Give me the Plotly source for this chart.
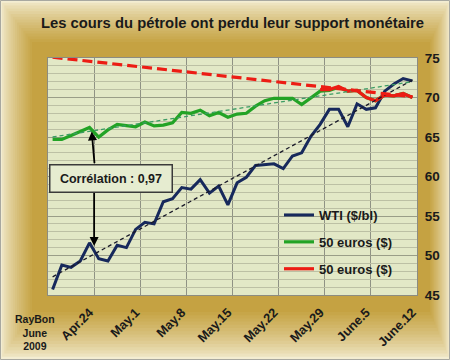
import plotly.graph_objects as go

# ---------------- data ----------------
day_index = list(range(40))  # trading days Apr 20 .. Jun 12, 2009
tick_pos = [4, 9, 14, 19, 24, 29, 34, 39]
tick_labels = ["Apr.24", "May.1", "May.8", "May.15", "May.22", "May.29", "June.5", "June.12"]

wti = [45.7, 48.8, 48.5, 49.3, 51.6, 49.6, 49.3, 51.3, 51.0, 53.3,
       54.2, 54.0, 56.8, 57.2, 58.6, 58.4, 59.6, 57.9, 58.8, 56.4,
       59.2, 59.9, 61.4, 61.5, 61.6, 61.0, 62.6, 63.0, 65.1, 66.6,
       68.5, 68.5, 66.3, 69.2, 68.5, 68.7, 70.8, 71.7, 72.4, 72.1]

eur_green = [64.7, 64.7, 65.2, 65.7, 66.2, 65.0, 65.9, 66.6, 66.4, 66.3,
             66.9, 66.4, 66.5, 66.8, 68.1, 68.0, 68.4, 67.7, 68.1, 67.5,
             67.9, 68.0, 68.9, 69.6, 69.9, 69.9, 69.9, 69.1, 69.9, 70.8,
             70.9, 71.3, 70.8, 70.9, 70.0, 69.6, 70.3, 70.2, 70.5, 70.0]

red_index = list(range(29, 40))
eur_red = [71.0, 71.0, 71.4, 70.8, 70.9, 70.0, 69.6, 70.3, 70.2, 70.5, 70.0]

trend_x = [0, 39]
wti_trend = [47.3, 72.2]
green_trend = [65.0, 72.0]
red_trend = [75.1, 70.1]

# ---------------- layout geometry ----------------
W, H = 450, 360
L, R, T, B = 48, 33, 58, 65
PW, PH = W - L - R, H - T - B


def px(x):
    return (x - L) / PW


def py(y):
    return (H - B - y) / PH


FONT = "Liberation Sans, Arial, sans-serif"

fig = go.Figure()

fig.add_trace(go.Scatter(x=day_index, y=wti, mode="lines", name="<b>WTI ($/bl)</b>",
                         line=dict(color="#17295c", width=3), legendgroup="a"))
fig.add_trace(go.Scatter(x=day_index, y=eur_green, mode="lines", name="<b>50 euros ($)</b>",
                         line=dict(color="#22a325", width=3.2), legendgroup="b"))
fig.add_trace(go.Scatter(x=red_index, y=eur_red, mode="lines", name="<b>50 euros ($)</b>",
                         line=dict(color="#ec1c14", width=3.2), legendgroup="c"))

fig.add_trace(go.Scatter(x=trend_x, y=wti_trend, mode="lines", showlegend=False,
                         line=dict(color="#1a1a2a", width=1.3, dash="4px,3px"), hoverinfo="skip"))
fig.add_trace(go.Scatter(x=trend_x, y=green_trend, mode="lines", showlegend=False,
                         line=dict(color="#3c9c64", width=1.3, dash="4px,3px"), hoverinfo="skip"))
fig.add_trace(go.Scatter(x=trend_x, y=red_trend, mode="lines", showlegend=False,
                         line=dict(color="#ec1c14", width=3.2, dash="10px,5px"), hoverinfo="skip"))

# ---------------- background gradient frame ----------------
def lerp(c1, c2, f):
    a = [int(c1[i:i + 2], 16) for i in (1, 3, 5)]
    b = [int(c2[i:i + 2], 16) for i in (1, 3, 5)]
    return "#" + "".join(f"{round(a[k] + (b[k] - a[k]) * f):02x}" for k in range(3))


shapes = []
outer = (0, 0, W, H)
inner = (32, 42, 430, 312)
N = 16
for k in range(N):
    f = k / (N - 1)
    x0 = outer[0] + (inner[0] - outer[0]) * f
    y0 = outer[1] + (inner[1] - outer[1]) * f
    x1 = outer[2] + (inner[2] - outer[2]) * f
    y1 = outer[3] + (inner[3] - outer[3]) * f
    col = lerp("#f3edd2", "#c5a242", f ** 0.75)
    shapes.append(dict(type="rect", xref="paper", yref="paper", layer="below",
                       x0=px(x0), x1=px(x1), y0=py(y1), y1=py(y0),
                       fillcolor=col, line=dict(width=0)))
# plot area background
shapes.append(dict(type="rect", xref="paper", yref="paper", layer="below",
                   x0=0, x1=1, y0=0, y1=1, fillcolor="#e2e8c6", line=dict(width=0)))
# outer border
shapes.append(dict(type="rect", xref="paper", yref="paper", layer="above",
                   x0=px(0.5), x1=px(W - 0.5), y0=py(H - 0.5), y1=py(0.5),
                   fillcolor="rgba(0,0,0,0)", line=dict(color="#a8a8a0", width=1)))

# ---------------- annotations ----------------
annotations = [
    dict(x=6.38, y=59.8, xref="x", yref="y", text="<b>Corrélation : 0,97</b>",
         showarrow=False, xanchor="center", yanchor="middle",
         font=dict(family=FONT, size=12.5, color="#1a1a1a"),
         bgcolor="#e6ecd0", bordercolor="#3a3a3a", borderwidth=1.5,
         width=117, height=22, borderpad=2),
    dict(x=4.24, y=65.7, ax=4.55, ay=61.5, xref="x", yref="y", axref="x", ayref="y",
         text="", showarrow=True, arrowhead=2, arrowsize=1, arrowwidth=1.8,
         arrowcolor="#000000", standoff=0, startstandoff=0),
    dict(x=4.5, y=51.2, ax=4.5, ay=58.1, xref="x", yref="y", axref="x", ayref="y",
         text="", showarrow=True, arrowhead=2, arrowsize=1, arrowwidth=1.8,
         arrowcolor="#000000", standoff=0, startstandoff=0),
    dict(x=px(35), y=py(332), xref="paper", yref="paper", text="<b>RayBon<br>June<br>2009</b>",
         showarrow=False, xanchor="center", yanchor="middle", align="center",
         font=dict(family=FONT, size=10.5, color="#1a1a1a")),
]

fig.update_layout(
    width=W, height=H,
    margin=dict(l=L, r=R, t=T, b=B, pad=0, autoexpand=False),
    paper_bgcolor="#d8c27c",
    plot_bgcolor="#e2e8c6",
    title=dict(text="<b>Les cours du pétrole ont perdu leur support monétaire</b>",
               x=0.5, xref="paper", xanchor="center", y=1 - 23 / H, yref="container",
               yanchor="middle", font=dict(family=FONT, size=14.8, color="#1a1a1a")),
    showlegend=True,
    legend=dict(x=px(279), y=py(200), xanchor="left", yanchor="top",
                bgcolor="rgba(0,0,0,0)", traceorder="grouped", tracegroupgap=7,
                font=dict(family=FONT, size=13, color="#1a1a1a")),
    shapes=shapes,
    annotations=annotations,
    xaxis=dict(range=[-0.5, 39.5], tickmode="array", tickvals=tick_pos,
               ticktext=[f"<b>{t}</b>" for t in tick_labels], tickangle=-45,
               showgrid=False, zeroline=False, ticks="", automargin=False,
               ticklabelstandoff=4,
               tickfont=dict(family=FONT, size=12.8, color="#1a1a1a"),
               showline=True, linecolor="#8c8c80", linewidth=1, mirror=True,
               minor=dict(tick0=4.5, dtick=5, showgrid=True, gridcolor="#8f9284", gridwidth=1)),
    yaxis=dict(range=[45, 75], side="right", dtick=5, tick0=45,
               showgrid=True, gridcolor="#9a9e88", gridwidth=1, zeroline=False,
               ticks="", ticklabelstandoff=4, automargin=False,
               tickfont=dict(family=FONT, size=13.5, color="#1a1a1a"),
               tickprefix="<b>", ticksuffix="</b>",
               showline=True, linecolor="#8c8c80", linewidth=1, mirror=True,
               minor=dict(dtick=1, showgrid=True, gridcolor="#bcc0a4", gridwidth=1)),
)

fig.write_html(
    "out.html",
    config={"displayModeBar": False, "staticPlot": True},
    post_script="document.body.style.margin='0';document.body.style.padding='0';"
                "document.body.style.overflow='hidden';",
)
